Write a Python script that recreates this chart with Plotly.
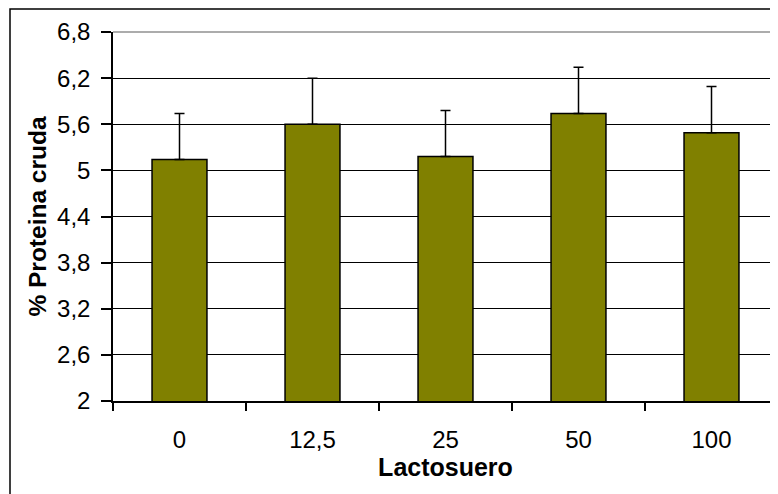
import plotly.graph_objects as go

categories = ["0", "12,5", "25", "50", "100"]
proteina = [5.14, 5.60, 5.18, 5.74, 5.49]
error_sup = [0.60, 0.60, 0.60, 0.60, 0.60]
y_ticks = [2, 2.6, 3.2, 3.8, 4.4, 5, 5.6, 6.2, 6.8]
y_tick_labels = ["2", "2,6", "3,2", "3,8", "4,4", "5", "5,6", "6,2", "6,8"]

tick_font = dict(family="Liberation Sans, Arial, sans-serif", size=24, color="black")
xtitle_font = dict(family="Liberation Sans, Arial, sans-serif", size=25, color="black")
ytitle_font = dict(family="Liberation Sans, Arial, sans-serif", size=24.5, color="black")

fig = go.Figure()
fig.add_trace(go.Bar(
    x=categories, y=proteina,
    marker=dict(color="#808000", line=dict(color="black", width=1.5)),
    error_y=dict(type="data", symmetric=False, array=error_sup,
                 arrayminus=[0] * len(error_sup),
                 color="black", thickness=1.5, width=5),
))

# page body has an 8px margin, so the figure sits at (8, 8)
W, H = 770, 486
ML, MT, MB = 105, 24, 93
PW, PH = W - ML, H - MT - MB

fig.update_layout(
    width=W, height=H,
    margin=dict(l=ML, r=0, t=MT, b=MB),
    paper_bgcolor="white", plot_bgcolor="white",
    bargap=0.587,
    showlegend=False,
    font=tick_font,
    xaxis=dict(
        type="category",
        showline=True, linecolor="black", linewidth=1.5,
        ticks="outside", ticklen=8, tickcolor="black", tickwidth=1.5,
        tickson="boundaries",
        ticklabelstandoff=16,
        tickfont=tick_font,
        showgrid=False,
        title=dict(text="<b>Lactosuero</b>", font=xtitle_font, standoff=5),
    ),
    yaxis=dict(
        range=[2, 6.8],
        tickvals=y_ticks, ticktext=y_tick_labels,
        showline=True, linecolor="black", linewidth=1.5,
        ticks="outside", ticklen=10, tickcolor="black", tickwidth=1.5,
        ticklabelstandoff=6,
        tickfont=tick_font,
        showgrid=True, gridcolor="black", gridwidth=1.2,
        zeroline=False,
        title=dict(text="<b>% Proteina cruda</b>", font=ytitle_font, standoff=4),
    ),
    shapes=[
        dict(type="rect", xref="paper", yref="paper",
             x0=(10 - 8 - ML) / PW, x1=1.2, y0=-0.5, y1=1 + (MT - 1) / PH,
             line=dict(color="black", width=1.5), layer="below"),
        dict(type="line", xref="paper", yref="paper",
             x0=0, x1=1, y0=1, y1=1,
             line=dict(color="#909090", width=1.5), layer="above"),
    ],
)

fig.write_html("out.html")
